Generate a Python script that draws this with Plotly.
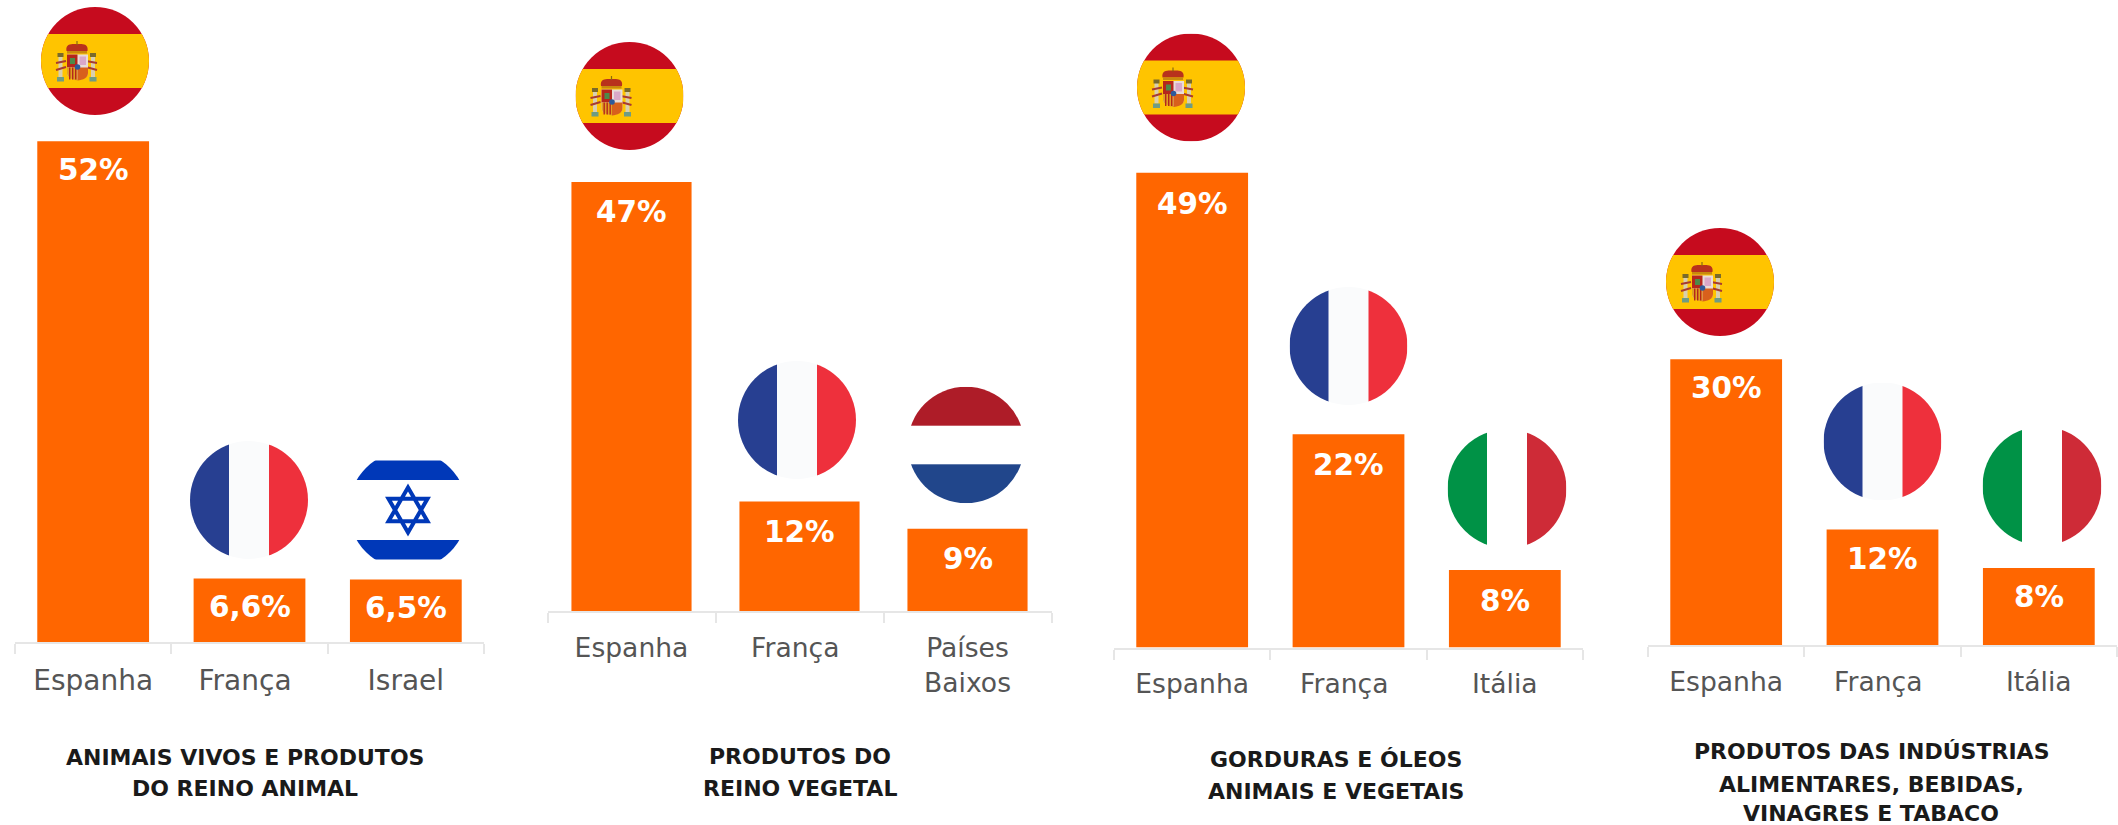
import base64
import plotly.graph_objects as go

# ---------- data ----------
panel1_categories = ["Espanha", "França", "Israel"]
panel1_values = [52, 6.6, 6.5]
panel1_labels = ["52%", "6,6%", "6,5%"]
panel1_title = ["ANIMAIS VIVOS E PRODUTOS", "DO REINO ANIMAL"]

panel2_categories = ["Espanha", "França", "Países<br>Baixos"]
panel2_values = [47, 12, 9]
panel2_labels = ["47%", "12%", "9%"]
panel2_title = ["PRODUTOS DO", "REINO VEGETAL"]

panel3_categories = ["Espanha", "França", "Itália"]
panel3_values = [49, 22, 8]
panel3_labels = ["49%", "22%", "8%"]
panel3_title = ["GORDURAS E ÓLEOS", "ANIMAIS E VEGETAIS"]

panel4_categories = ["Espanha", "França", "Itália"]
panel4_values = [29.7, 12, 8]
panel4_labels = ["30%", "12%", "8%"]
panel4_title = ["PRODUTOS DAS INDÚSTRIAS", "ALIMENTARES, BEBIDAS,", "VINAGRES E TABACO"]

# ---------- style / layout ----------
W, H = 2118, 825
ORANGE = "#FF6600"
AXIS = "#E6E6E6"
TICK_TEXT = "#555555"
TITLE_TEXT = "#1A1A1A"
FONT = "DejaVu Sans"

panels = [
    dict(cats=panel1_categories, vals=panel1_values, labels=panel1_labels, title=panel1_title,
         x0=15, x1=484, base=642, unit=9.63, tick=28, standoff=12, lab=-29, tx=245, ty=[757, 788],
         flags=[("es", 95, 61, 54), ("fr", 249, 500, 59), ("il", 408, 510, 59.5)]),
    dict(cats=panel2_categories, vals=panel2_values, labels=panel2_labels, title=panel2_title,
         x0=547.5, x1=1051.5, base=611, unit=9.13, tick=26.6, standoff=12, lab=-30.5, tx=800, ty=[756, 788],
         flags=[("es", 629.5, 96, 54), ("fr", 797, 420, 59), ("nl", 966, 445, 58.3)]),
    dict(cats=panel3_categories, vals=panel3_values, labels=panel3_labels, title=panel3_title,
         x0=1114, x1=1583, base=647.5, unit=9.69, tick=26.6, standoff=12, lab=-31, tx=1336, ty=[759, 791],
         flags=[("es", 1191, 87.5, 54), ("fr", 1348.5, 346, 59), ("it", 1507, 488.7, 59.5)]),
    dict(cats=panel4_categories, vals=panel4_values, labels=panel4_labels, title=panel4_title,
         x0=1648, x1=2117, base=645, unit=9.62, tick=26.6, standoff=12, lab=-29, tx=1871, ty=[751, 784, 813],
         flags=[("es", 1720, 282, 54), ("fr", 1882.5, 441.5, 59), ("it", 2042, 486, 59.5)]),
]


def arms():
    """Small drawing of the Spanish coat of arms, in the flag's own px space."""
    p = ['<filter id="b"><feGaussianBlur stdDeviation="0.45"/></filter><g filter="url(#b)">']
    # pillars
    for x in (-38, -5.5):
        p.append(f'<rect x="{x+1.5}" y="-5" width="4" height="21" fill="#D9CFAE"/>')
        p.append(f'<rect x="{x+.5}" y="-8" width="6" height="4" fill="#7A6A2A"/>')
        p.append(f'<rect x="{x}" y="16" width="7" height="4.5" fill="#6E9C84"/>')
    # ribbons
    p.append('<path d="M-39 2 L-29 0 M-39 9 L-29 6 M-9 0 L2 2 M-9 6 L2 9" stroke="#A83A30" stroke-width="2" fill="none"/>')
    # crown
    p.append('<path d="M-28.5 -10 C-30 -18 -22 -17 -18 -17 C-14 -17 -6 -18 -7.5 -10 Z" fill="#B8301E"/>')
    p.append('<rect x="-28" y="-10" width="20" height="2.5" fill="#C88A10"/>')
    p.append('<rect x="-18.6" y="-20" width="1.2" height="4" fill="#8A6A10"/>')
    # shield
    p.append('<path d="M-28 -6.5 H-7 V12 C-7 21 -28 21 -28 12 Z" fill="#E8DCD8"/>')
    p.append('<path d="M-28 -6.5 H-17.5 V6.5 H-28 Z" fill="#B5281E"/>')
    p.append('<rect x="-25" y="-3" width="5" height="6" fill="#4E8A4A"/>')
    p.append('<rect x="-15.5" y="-4.5" width="6.5" height="8.5" fill="#D9A8C8"/>')
    p.append('<path d="M-28 6.5 H-17.5 V19.5 C-22 19 -28 17 -28 12 Z" fill="#E0A020"/>')
    for x in (-26, -23, -20):
        p.append(f'<rect x="{x}" y="6.5" width="1.4" height="12" fill="#B5281E"/>')
    p.append('<path d="M-17.5 6.5 H-7 V12 C-7 17 -12 19 -17.5 19.5 Z" fill="#D8601A"/>')
    p.append('<circle cx="-17.5" cy="6" r="2.8" fill="#2F5A9A"/>')
    p.append('</g>')
    return "".join(p)


def flag_svg(kind, r):
    a = -r
    d = 2 * r
    if kind == "es":
        body = (f'<rect x="{a}" y="{a}" width="{d}" height="{d}" fill="#C60B1E"/>'
                f'<rect x="{a}" y="-27" width="{d}" height="54" fill="#FFC400"/>' + arms())
    elif kind == "fr":
        body = (f'<rect x="{a}" y="{a}" width="{d}" height="{d}" fill="#FAFBFC"/>'
                f'<rect x="{a}" y="{a}" width="{r-20}" height="{d}" fill="#273F91"/>'
                f'<rect x="20" y="{a}" width="{r-20}" height="{d}" fill="#EE303C"/>')
    elif kind == "it":
        body = (f'<rect x="{a}" y="{a}" width="{d}" height="{d}" fill="#FFFFFF"/>'
                f'<rect x="{a}" y="{a}" width="{r-20}" height="{d}" fill="#009246"/>'
                f'<rect x="20" y="{a}" width="{r-20}" height="{d}" fill="#CE2B37"/>')
    elif kind == "nl":
        body = (f'<rect x="{a}" y="{a}" width="{d}" height="{d}" fill="#FFFFFF"/>'
                f'<rect x="{a}" y="{a}" width="{d}" height="{r-19.3}" fill="#AE1C28"/>'
                f'<rect x="{a}" y="19.3" width="{d}" height="{r-19.3}" fill="#21468B"/>')
    else:  # il
        star = ('<path d="M0 -22.5 L19.5 11.25 H-19.5 Z M0 22.5 L19.5 -11.25 H-19.5 Z" '
                'fill="none" stroke="#0038B8" stroke-width="4"/>')
        body = (f'<rect x="{a}" y="-49.5" width="{d}" height="19.5" fill="#0038B8"/>'
                f'<rect x="{a}" y="30" width="{d}" height="19.5" fill="#0038B8"/>' + star)
    svg = (f'<svg xmlns="http://www.w3.org/2000/svg" width="{d}" height="{d}" viewBox="{a} {a} {d} {d}">'
           f'<clipPath id="c"><circle cx="0" cy="0" r="{r}"/></clipPath><g clip-path="url(#c)">{body}</g></svg>')
    return "data:image/svg+xml;base64," + base64.b64encode(svg.encode()).decode()


fig = go.Figure()
annotations = []
images = []
layout_axes = {}

for i, p in enumerate(panels, start=1):
    xn, yn = f"x{i}", f"y{i}"
    fig.add_bar(x=p["cats"], y=p["vals"], xaxis=xn, yaxis=yn, marker=dict(color=ORANGE, line_width=0),
                showlegend=False, hoverinfo="skip")
    layout_axes[f"xaxis{i}"] = dict(
        domain=[p["x0"] / W, p["x1"] / W], anchor=yn, type="category", categoryorder="array",
        categoryarray=p["cats"], range=[-0.5, 2.5], tickson="boundaries", ticks="outside", ticklen=10,
        tickwidth=2, tickcolor=AXIS, showline=True, linecolor=AXIS, linewidth=2, showgrid=False, zeroline=False,
        tickmode="array", tickvals=p["cats"],
        # the no-break space reproduces the reference's slightly left-set "França" label
        ticktext=[c + "\u00a0" if c == "França" else c for c in p["cats"]],
        ticklabelstandoff=p["standoff"], tickfont=dict(family=FONT, size=p["tick"], color=TICK_TEXT),
    )
    layout_axes[f"yaxis{i}"] = dict(
        domain=[1 - p["base"] / H, 1], anchor=xn, range=[0, p["base"] / p["unit"]],
        visible=False, showgrid=False, zeroline=False,
    )
    for c, v, t in zip(p["cats"], p["vals"], p["labels"]):
        annotations.append(dict(xref=xn, yref=yn, x=c, y=v, text=t, showarrow=False, yanchor="middle",
                                yshift=p["lab"], font=dict(family=FONT, size=29.5, color="#FFFFFF", weight="bold")))
    for line, y in zip(p["title"], p["ty"]):
        annotations.append(dict(xref="paper", yref="paper", x=p["tx"] / W, y=1 - y / H, text=f"<b>{line}</b>",
                                showarrow=False, xanchor="center", yanchor="middle",
                                font=dict(family=FONT, size=22, color=TITLE_TEXT)))
    for kind, cx, cy, r in p["flags"]:
        images.append(dict(source=flag_svg(kind, r), xref="paper", yref="paper", x=(cx - r) / W, y=1 - (cy - r) / H,
                           sizex=2 * r / W, sizey=2 * r / H, xanchor="left", yanchor="top", sizing="stretch",
                           layer="above"))

fig.update_layout(width=W, height=H, margin=dict(l=0, r=0, t=0, b=0), paper_bgcolor="#FFFFFF",
                  plot_bgcolor="#FFFFFF", bargap=0.285, annotations=annotations, images=images,
                  font=dict(family=FONT), **layout_axes)

fig.write_html("out.html", config=dict(displayModeBar=False),
               post_script="document.body.style.margin='0';document.body.style.overflow='hidden';")
